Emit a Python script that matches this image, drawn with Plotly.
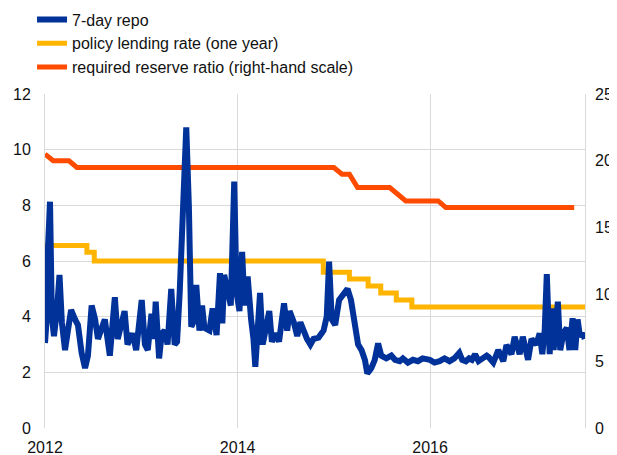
import plotly.graph_objects as go

# 7-day repo (%)
repo_dates = [
    "2012-01-01", "2012-01-08", "2012-01-12", "2012-01-20", "2012-01-27", "2012-02-04", "2012-02-15", "2012-02-25",
    "2012-03-05", "2012-03-17", "2012-03-28", "2012-04-09", "2012-04-24", "2012-05-05", "2012-05-19",
    "2012-06-01", "2012-06-12", "2012-06-26", "2012-07-09", "2012-07-20", "2012-07-31", "2012-08-15",
    "2012-09-03", "2012-09-22", "2012-10-03", "2012-10-14", "2012-10-29", "2012-11-09", "2012-11-28",
    "2012-12-12", "2013-01-02", "2013-01-14", "2013-01-25", "2013-02-08", "2013-02-17", "2013-02-24",
    "2013-03-09", "2013-03-19", "2013-03-30", "2013-04-10", "2013-04-24", "2013-05-07", "2013-05-16",
    "2013-05-26", "2013-06-05", "2013-06-20", "2013-06-30", "2013-07-09", "2013-07-17", "2013-07-28",
    "2013-08-09", "2013-08-19", "2013-08-28", "2013-09-16", "2013-09-28", "2013-10-13", "2013-10-26",
    "2013-11-04", "2013-11-11", "2013-11-23", "2013-12-06", "2013-12-19", "2013-12-28", "2014-01-08",
    "2014-01-18", "2014-01-27", "2014-02-08", "2014-02-21", "2014-03-02", "2014-03-09", "2014-03-17",
    "2014-03-27", "2014-04-06", "2014-04-16", "2014-05-01", "2014-05-11", "2014-05-26", "2014-06-07",
    "2014-06-26", "2014-07-08", "2014-07-17", "2014-08-02", "2014-08-15", "2014-08-27", "2014-09-09",
    "2014-09-21", "2014-10-04", "2014-10-16", "2014-11-04", "2014-11-23", "2014-12-05", "2014-12-14",
    "2014-12-24", "2015-01-06", "2015-01-21", "2015-02-06", "2015-02-22", "2015-03-07", "2015-03-22",
    "2015-04-03", "2015-04-16", "2015-04-29", "2015-05-08", "2015-05-23", "2015-06-05", "2015-06-18",
    "2015-06-30", "2015-07-19", "2015-08-07", "2015-08-21", "2015-09-08", "2015-09-20", "2015-10-09",
    "2015-10-28", "2015-11-16", "2015-12-04", "2015-12-31", "2016-01-18", "2016-02-06", "2016-02-25",
    "2016-03-15", "2016-04-02", "2016-04-21", "2016-05-02", "2016-05-16", "2016-05-28", "2016-06-08",
    "2016-06-20", "2016-07-03", "2016-07-18", "2016-08-03", "2016-08-10", "2016-08-28", "2016-09-16",
    "2016-10-05", "2016-10-17", "2016-11-05", "2016-11-17", "2016-12-06", "2016-12-18", "2017-01-07",
    "2017-01-20", "2017-02-07", "2017-02-20", "2017-03-02", "2017-03-11", "2017-03-19", "2017-03-30",
    "2017-04-05", "2017-04-14", "2017-04-30", "2017-05-09", "2017-05-21", "2017-06-03", "2017-06-13",
    "2017-06-25", "2017-07-05", "2017-07-14", "2017-07-23", "2017-08-02", "2017-08-10",
]
repo = [
    3.05, 4.0, 6.4, 8.13, 4.0, 3.3, 4.2, 5.5,
    3.8, 2.8, 3.5, 4.24, 3.9, 3.7, 2.7,
    2.15, 2.6, 4.4, 3.9, 3.2, 3.5, 3.9,
    2.6, 4.7, 3.2, 3.6, 4.2, 3.0, 3.4,
    2.8, 4.6, 3.0, 2.8, 4.1, 3.2, 4.54,
    2.5, 3.4, 3.5, 3.0, 5.0, 3.0, 3.1,
    4.85, 7.6, 10.8, 7.95, 3.64, 3.8, 5.14,
    3.5, 4.4, 3.6, 3.5, 4.3, 3.34, 5.56,
    3.76, 5.5, 5.0, 4.4, 8.85, 4.85, 4.2,
    6.33, 4.4, 5.44, 3.9, 3.2, 2.2, 3.3,
    4.85, 3.0, 3.5, 4.2, 3.1, 3.4, 3.1,
    4.48, 3.5, 4.2, 3.8, 3.3, 3.8, 3.4,
    3.2, 3.0, 3.2, 3.25, 3.5, 4.0, 5.98,
    3.9, 3.7, 4.6, 4.78, 5.0, 4.6, 3.6,
    3.0, 2.8, 2.44, 1.96, 2.15, 2.44, 3.04,
    2.6, 2.5, 2.6, 2.45, 2.4, 2.5, 2.35,
    2.45, 2.4, 2.5, 2.45, 2.35, 2.4, 2.5,
    2.4, 2.5, 2.7, 2.45, 2.4, 2.5, 2.45,
    2.65, 2.4, 2.5, 2.6, 2.55, 2.35, 2.8,
    2.4, 2.98, 2.65, 3.28, 2.65, 3.28, 2.45,
    3.2, 3.0, 3.4, 2.65, 3.5, 5.53, 2.65,
    4.3, 2.8, 4.54, 2.8, 3.4, 3.6, 2.8,
    3.94, 2.8, 3.9, 3.28, 3.4, 3.2,
]

# policy lending rate (one year), change dates
policy_dates = ["2012-01-01", "2012-06-08", "2012-07-06", "2014-11-22", "2015-03-01",
                "2015-05-11", "2015-06-28", "2015-08-26", "2015-10-24", "2017-08-11"]
policy = [6.56, 6.31, 6.0, 5.6, 5.35, 5.1, 4.85, 4.6, 4.35, 4.35]

# required reserve ratio (right-hand scale), monthly turning points
rrr_dates = ["2012-01-01", "2012-02-01", "2012-04-01", "2012-05-01", "2015-01-01", "2015-02-01",
             "2015-03-01", "2015-04-01", "2015-08-01", "2015-09-01", "2015-10-01", "2016-02-01",
             "2016-03-01", "2017-07-01"]
rrr = [20.5, 20.0, 20.0, 19.5, 19.5, 19.0, 19.0, 18.0, 18.0, 17.5, 17.0, 17.0, 16.5, 16.5]

blue = "#003299"
yellow = "#FFB400"
orange = "#FF4B00"
grid = "#D9D9D9"

fig = go.Figure()
fig.add_trace(go.Scatter(x=policy_dates, y=policy, mode="lines", line_shape="hv",
                         name="policy lending rate (one year)", legendrank=2,
                         line=dict(color=yellow, width=5), yaxis="y"))
fig.add_trace(go.Scatter(x=rrr_dates, y=rrr, mode="lines",
                         name="required reserve ratio (right-hand scale)", legendrank=3,
                         line=dict(color=orange, width=5), yaxis="y2"))
fig.add_trace(go.Scatter(x=repo_dates, y=repo, mode="lines",
                         name="7-day repo", legendrank=1,
                         line=dict(color=blue, width=6), yaxis="y3"))

# page has an 8px body margin, so the figure is sized to fit the window
fig.update_layout(
    width=609, height=447,
    margin=dict(l=37, r=32, t=86, b=27, autoexpand=False),
    paper_bgcolor="white", plot_bgcolor="white",
    font=dict(family="Liberation Sans, Arial", size=16, color="#111111"),
    showlegend=True,
    legend=dict(x=-0.024, y=1.274, xanchor="left", yanchor="top",
                font=dict(size=16), bgcolor="rgba(0,0,0,0)"),
    xaxis=dict(type="date", range=["2012-01-01", "2017-08-11"],
               tickvals=["2012-01-01", "2014-01-01", "2016-01-01"], tickformat="%Y",
               showgrid=True, gridcolor=grid, gridwidth=1, zeroline=False,
               showline=False, ticks="", ticklabelstandoff=8),
    yaxis=dict(range=[0, 12], dtick=2, showgrid=True, gridcolor=grid, zeroline=False,
               showline=True, mirror=True, linecolor=grid, ticks="", ticklabelstandoff=10),
    yaxis2=dict(range=[0, 25], dtick=5, overlaying="y", side="right", showgrid=False,
                zeroline=False, ticks="", ticklabelstandoff=9),
    yaxis3=dict(range=[0, 12], overlaying="y", visible=False),
)

fig.write_html("out.html")
